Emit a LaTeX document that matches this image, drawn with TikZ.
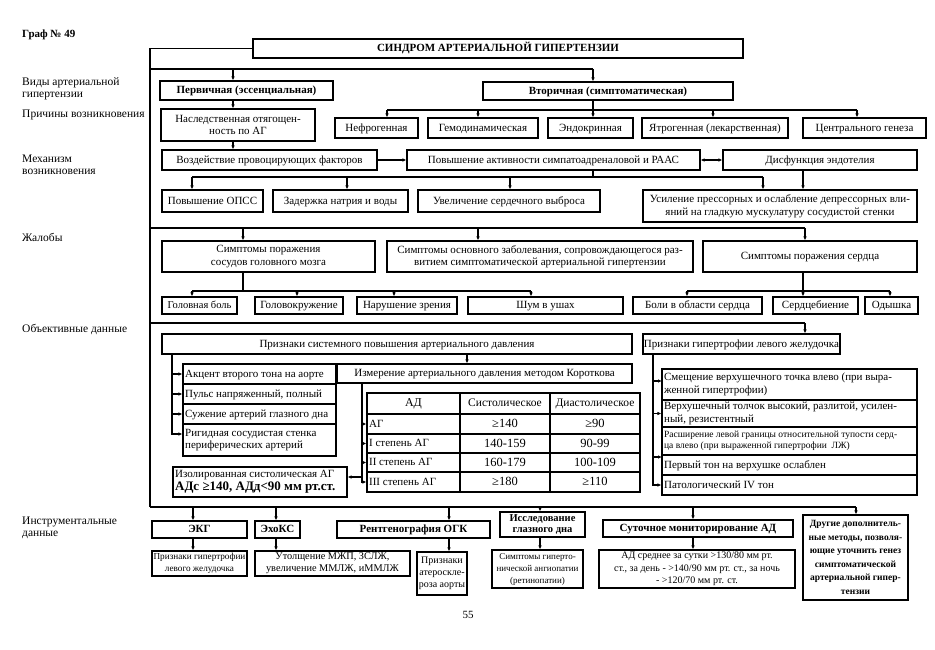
\documentclass[tikz,border=0pt]{standalone}
\usepackage{fontspec}
\setmainfont{Liberation Serif}
\usetikzlibrary{arrows.meta}
\newcommand\mybox[7][]{%
  \pgfmathsetmacro\bxw{#5-#3}%
  \pgfmathsetmacro\bxh{#6-#4}%
  \pgfmathsetmacro\bxcx{(#3+#5)/2}%
  \pgfmathsetmacro\bxcy{(#4+#6)/2}%
  \node[rbox,minimum width=\bxw pt,minimum height=\bxh pt,#1] (#2) at (\bxcx,\bxcy) {#7};%
}
\newcommand\ltext[3][]{\node[anchor=west,align=left,inner sep=0pt,one,#1] (#2-t) at ([xshift=2.5pt]#2.west) {#3};}
\begin{document}
\begin{tikzpicture}[x=1pt,y=-1pt,
  font=\fontsize{11}{12.5}\selectfont,
  one/.style={text height=8.7pt,text depth=2pt},
  ml/.style={text height=,text depth=},
  rbox/.style={draw,line width=1.1pt,inner sep=1pt,align=center,one},
  ln/.style={line width=1.1pt},
  arr/.style={line width=1.1pt,-{Latex[length=4pt,width=3.5pt]}},
  darr/.style={line width=1.1pt,{Latex[length=4pt,width=3.5pt]}-{Latex[length=4pt,width=3.5pt]}},
  lab/.style={anchor=west,align=left,inner sep=0pt,font=\fontsize{11.5}{11.5}\selectfont},
  bf/.style={font=\bfseries\fontsize{11}{12.5}\selectfont},
  sm/.style={font=\fontsize{9.5}{11}\selectfont},
  num/.style={font=\fontsize{12.5}{13}\selectfont,text height=9.5pt,text depth=2pt},
]
\useasboundingbox (0,0) rectangle (935,650);
\fill[white] (0,0) rectangle (935,650);

% ---- coordinates
\coordinate (L) at (150,0);
\coordinate (yA) at (0,69);
\coordinate (yV) at (0,110);
\coordinate (yM) at (0,177);
\coordinate (yB) at (0,228);
\coordinate (yS) at (0,291);
\coordinate (yC) at (0,323);
\coordinate (yD) at (0,507);
\coordinate (yIso) at (0,477);
\coordinate (yRig) at (0,434);
\coordinate (yPt) at (0,457);
\coordinate (ySm) at (0,381);
\foreach \v in {172,192,193,233,243,276,297,347,362,387,394,449,467,478,510,531,540,593,653,662,687,693,713,763,803,805,856,857,890}
  \coordinate (x\v) at (\v,0);

% ---- left labels
\node[anchor=west,inner sep=0pt,font=\bfseries\fontsize{11}{12}\selectfont] (graf) at (22,35) {Граф № 49};
\node[lab] (l1) at (22,89) {Виды артериальной\\гипертензии};
\node[lab] (l2) at (22,115) {Причины возникновения};
\node[lab] (l3) at (22,165) {Механизм\\возникновения};
\node[lab] (l4) at (22,237) {Жалобы};
\node[lab] (l5) at (22,329) {Объективные данные};
\node[lab] (l6) at (22,528) {Инструментальные\\данные};
\node (page) at (468,615) {55};

% ---- boxes
\mybox[bf]{T}{253}{39}{743}{58}{СИНДРОМ АРТЕРИАЛЬНОЙ ГИПЕРТЕНЗИИ}
\mybox[bf]{perv}{160}{81}{333}{100}{Первичная (эссенциальная)}
\mybox[bf]{vtor}{483}{82}{733}{100}{Вторичная (симптоматическая)}
\mybox[ml]{nasl}{161}{109}{315}{141}{Наследственная отягощен-\\ность по АГ}
\mybox{nefr}{335}{118}{418}{138}{Нефрогенная}
\mybox{gemo}{428}{118}{538}{138}{Гемодинамическая}
\mybox{endo}{548}{118}{633}{138}{Эндокринная}
\mybox{yatr}{642}{118}{788}{138}{Ятрогенная (лекарственная)}
\mybox{centr}{803}{118}{926}{138}{Центрального генеза}
\mybox{vozd}{162}{150}{377}{170}{Воздействие провоцирующих факторов}
\mybox{povy}{407}{150}{700}{170}{Повышение активности симпатоадреналовой и РААС}
\mybox{disf}{723}{150}{917}{170}{Дисфункция эндотелия}
\mybox{opss}{162}{190}{263}{212}{Повышение ОПСС}
\mybox{zad}{273}{190}{408}{212}{Задержка натрия и воды}
\mybox{uvel}{418}{190}{600}{212}{Увеличение сердечного выброса}
\mybox[ml]{usil}{643}{190}{917}{222}{Усиление прессорных и ослабление депрессорных вли-\\яний на гладкую мускулатуру сосудистой стенки}

\mybox[ml]{s1}{162}{241}{375}{272}{Симптомы поражения\\сосудов головного мозга}
\mybox[ml]{s2}{387}{241}{693}{272}{Симптомы основного заболевания, сопровождающегося раз-\\витием симптоматической артериальной гипертензии}
\mybox{s3}{703}{241}{917}{272}{Симптомы поражения сердца}
\mybox[font=\fontsize{10.5}{12}\selectfont]{gol}{162}{297}{237}{314}{Головная боль}
\mybox{golk}{255}{297}{343}{314}{Головокружение}
\mybox{nar}{357}{297}{457}{314}{Нарушение зрения}
\mybox{shum}{468}{297}{623}{314}{Шум в ушах}
\mybox{boli}{633}{297}{762}{314}{Боли в области сердца}
\mybox{serd}{773}{297}{858}{314}{Сердцебиение}
\mybox{odysh}{865}{297}{918}{314}{Одышка}

\mybox{prsys}{162}{334}{632}{354}{Признаки системного повышения артериального давления}
\mybox{prgip}{643}{334}{840}{354}{Признаки гипертрофии левого желудочка}

% left stack
\mybox{akc}{183}{364}{336}{384}{}\ltext{akc}{Акцент второго тона на аорте}
\mybox{puls}{183}{384}{336}{404}{}\ltext{puls}{Пульс напряженный, полный}
\mybox{suzh}{183}{404}{336}{424}{}\ltext{suzh}{Сужение артерий глазного дна}
\mybox{rig}{183}{424}{336}{456}{}\ltext[ml]{rig}{Ригидная сосудистая стенка\\периферических артерий}
\mybox{iso}{173}{467}{347}{497}{}\ltext[ml]{iso}{Изолированная систолическая АГ\\{\bfseries\fontsize{13}{14}\selectfont АДс ≥140, АДд<90 мм рт.ст.}}

% measurement and table
\mybox{izm}{337}{364}{632}{383}{Измерение артериального давления методом Короткова}
\mybox[font=\fontsize{12}{13}\selectfont]{th1}{367}{393}{460}{414}{АД}
\mybox[font=\fontsize{11.5}{13}\selectfont]{th2}{460}{393}{550}{414}{Систолическое}
\mybox[font=\fontsize{11.5}{13}\selectfont]{th3}{550}{393}{640}{414}{Диастолическое}
\mybox{r1a}{367}{414}{460}{434}{}\ltext{r1a}{АГ}
\mybox[num]{r1b}{460}{414}{550}{434}{≥140}
\mybox[num]{r1c}{550}{414}{640}{434}{≥90}
\mybox{r2a}{367}{434}{460}{453}{}\ltext{r2a}{I степень АГ}
\mybox[num]{r2b}{460}{434}{550}{453}{140-159}
\mybox[num]{r2c}{550}{434}{640}{453}{90-99}
\mybox{r3a}{367}{453}{460}{472}{}\ltext{r3a}{II степень АГ}
\mybox[num]{r3b}{460}{453}{550}{472}{160-179}
\mybox[num]{r3c}{550}{453}{640}{472}{100-109}
\mybox{r4a}{367}{472}{460}{492}{}\ltext{r4a}{III степень АГ}
\mybox[num]{r4b}{460}{472}{550}{492}{≥180}
\mybox[num]{r4c}{550}{472}{640}{492}{≥110}

% LV stack
\mybox{smes}{662}{369}{917}{400}{}\ltext[ml]{smes}{Смещение верхушечного точка влево (при выра-\\женной гипертрофии)}
\mybox{verh}{662}{400}{917}{427}{}\ltext[ml]{verh}{Верхушечный толчок высокий, разлитой, усилен-\\ный, резистентный}
\mybox{rassh}{662}{427}{917}{455}{}\ltext[sm,ml]{rassh}{Расширение левой границы относительной тупости серд-\\ца влево (при выраженной гипертрофии~~ЛЖ)}
\mybox{pton}{662}{455}{917}{475}{}\ltext{pton}{Первый тон на верхушке ослаблен}
\mybox{patol}{662}{475}{917}{495}{}\ltext{patol}{Патологический IV тон}

% instrumental
\mybox[bf]{ekg}{152}{521}{247}{538}{ЭКГ}
\mybox[bf]{echo}{255}{521}{300}{538}{ЭхоКС}
\mybox[bf]{rent}{337}{521}{490}{538}{Рентгенография ОГК}
\mybox[ml,font=\bfseries\fontsize{10.5}{11}\selectfont]{issl}{500}{512}{585}{537}{Исследование\\глазного дна}
\mybox[bf]{sut}{603}{520}{793}{537}{Суточное мониторирование АД}
\mybox[ml,font=\bfseries\fontsize{9.5}{13.5}\selectfont]{drug}{803}{515}{908}{600}{Другие дополнитель-\\ные методы, позволя-\\ющие уточнить генез\\симптоматической\\артериальной гипер-\\тензии}
\mybox[ml,font=\fontsize{9.2}{12}\selectfont]{ekg2}{152}{551}{247}{576}{Признаки гипертрофии\\левого желудочка}
\mybox[ml,font=\fontsize{10.3}{12}\selectfont]{echo2}{255}{551}{410}{576}{Утолщение МЖП, ЗСЛЖ,\\увеличение ММЛЖ, иММЛЖ}
\mybox[ml,font=\fontsize{10}{12}\selectfont]{rent2}{417}{552}{467}{595}{Признаки\\атероскле-\\роза аорты}
\mybox[ml,font=\fontsize{9}{12}\selectfont]{issl2}{492}{550}{583}{588}{Симптомы гиперто-\\нической ангиопатии\\(ретинопатии)}
\mybox[ml,font=\fontsize{10}{12.5}\selectfont]{sut2}{599}{550}{795}{588}{АД среднее за сутки >130/80 мм рт.\\ст., за день - >140/90 мм рт. ст., за ночь\\- >120/70 мм рт. ст.}

% ---- connectors
\draw[ln] (T.west) -| (L |- yD);
\draw[ln] (L |- yA) -- (x593 |- yA);
\draw[arr] (x233 |- yA) -- (x233 |- perv.north);
\draw[arr] (x593 |- yA) -- (x593 |- vtor.north);
\draw[arr] (x233 |- perv.south) -- (x233 |- nasl.north);
\draw[arr] (x233 |- nasl.south) -- (x233 |- vozd.north);
\draw[ln] (x593 |- vtor.south) -- (x593 |- yV);
\draw[ln] (x387 |- yV) -- (x857 |- yV);
\foreach \n/\c in {nefr/x387,gemo/x478,endo/x593,yatr/x713,centr/x857}
  \draw[arr] (\c |- yV) -- (\c |- \n.north);

\draw[arr] (vozd.east) -- (povy.west);
\draw[darr] (povy.east) -- (disf.west);
\draw[ln] (x593 |- povy.south) -- (x593 |- yM);
\draw[ln] (x192 |- yM) -- (x763 |- yM);
\foreach \n/\c in {opss/x192,zad/x347,uvel/x510,usil/x763}
  \draw[arr] (\c |- yM) -- (\c |- \n.north);
\draw[arr] (x803 |- disf.south) -- (x803 |- usil.north);

\draw[ln] (L |- yB) -- (x805 |- yB);
\foreach \n/\c in {s1/x243,s2/x478,s3/x805}
  \draw[arr] (\c |- yB) -- (\c |- \n.north);
\draw[ln] (x243 |- s1.south) -- (x243 |- yS);
\draw[ln] (x192 |- yS) -- (x531 |- yS);
\foreach \n/\c in {gol/x192,golk/x297,nar/x394,shum/x531}
  \draw[arr] (\c |- yS) -- (\c |- \n.north);
\draw[ln] (x803 |- s3.south) -- (x803 |- yS);
\draw[ln] (x687 |- yS) -- (x890 |- yS);
\foreach \n/\c in {boli/x687,serd/x803,odysh/x890}
  \draw[arr] (\c |- yS) -- (\c |- \n.north);

\draw[ln] (L |- yC) -- (x805 |- yC);
\draw[arr] (x805 |- yC) -- (x805 |- prgip.north);
\draw[arr] (x467 |- prsys.south) -- (x467 |- izm.north);
\draw[arr] (x172 |- prsys.south) |- (rig.west |- yRig);
\foreach \n in {akc,puls,suzh}
  \draw[arr] (x172 |- \n.west) -- (\n.west);
\draw[arr] (x362 |- izm.south) |- (r4a.west);
\foreach \n in {r1a,r2a,r3a}
  \draw[arr] (x362 |- \n.west) -- (\n.west);
\draw[arr] (x362 |- yIso) -- (iso.east |- yIso);
\draw[arr] (x653 |- prgip.south) |- (patol.west);
\draw[arr] (x653 |- ySm) -- (x662 |- ySm);
\draw[arr] (x653 |- verh.west) -- (verh.west);
\draw[arr] (x653 |- yPt) -- (x662 |- yPt);

\draw[ln] (L |- yD) -- (x856 |- yD);
\foreach \n/\c in {ekg/x193,echo/x276,rent/x449,issl/x540,sut/x693,drug/x856}
  \draw[arr] (\c |- yD) -- (\c |- \n.north);
\foreach \a/\b/\c in {ekg/ekg2/x193,echo/echo2/x276,rent/rent2/x449,issl/issl2/x540,sut/sut2/x693}
  \draw[arr] (\c |- \a.south) -- (\c |- \b.north);
\end{tikzpicture}
\end{document}
